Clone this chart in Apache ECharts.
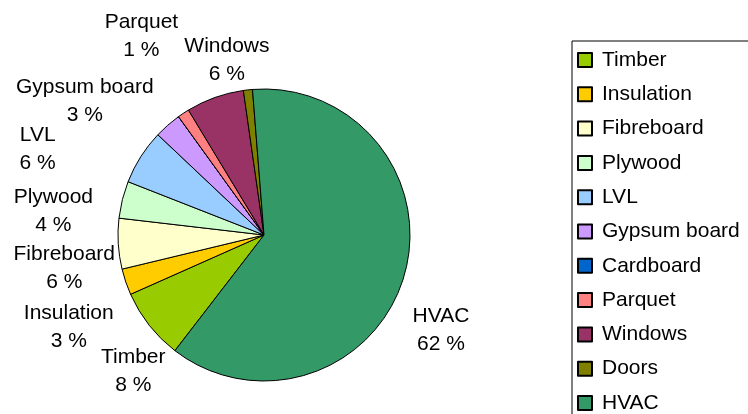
<!DOCTYPE html>
<html><head><meta charset="utf-8">
<script src="https://cdn.jsdelivr.net/npm/echarts@6/dist/echarts.min.js"></script>
<style>html,body{margin:0;padding:0;background:#fff}#c{width:748px;height:414px}</style>
</head><body><div id="c"></div>
<script>
const categories = ['Timber','Insulation','Fibreboard','Plywood','LVL','Gypsum board','Cardboard','Parquet','Windows','Doors','HVAC'];
const shares = [7.9, 2.9, 5.6, 4.1, 6.1, 3.0, 0, 1.3, 6.4, 1.0, 61.7];
const colors = ['#99CC00','#FFCC00','#FFFFCC','#CCFFCC','#99CCFF','#CC99FF','#0066CC','#FF8080','#993366','#808000','#339966'];
const unlabelled = ['Cardboard','Doors'];
// label nudges (px) from the outer midpoint of each slice, Excel-style placement
const labelNudge = {
  'Timber': [-16, 46], 'Insulation': [-57, 45], 'Fibreboard': [-54, 24], 'Plywood': [-69, 12],
  'LVL': [-103, -8], 'Gypsum board': [-83, -24], 'Parquet': [-42, -77], 'Windows': [12, -37], 'HVAC': [37, 54]
};

const FONT = '"Liberation Sans", Arial, sans-serif';
const chart = echarts.init(document.getElementById('c'), null, {renderer: 'canvas'});
chart.setOption({
  animation: false,
  color: colors,
  legend: {
    orient: 'vertical',
    left: 572, top: 41, height: 600,
    padding: [8.5, 30, 30, 5],
    borderColor: '#000', borderWidth: 1,
    itemWidth: 14, itemHeight: 14, itemGap: 13.3,
    icon: 'rect',
    textStyle: {fontSize: 21, lineHeight: 21, color: '#000', fontFamily: FONT, padding: [0,0,0,5]},
    data: categories
  },
  series: [{
    type: 'pie',
    center: [264, 235],
    radius: 146,
    startAngle: 232.4,
    clockwise: true,
    percentPrecision: 0,
    avoidLabelOverlap: false,
    itemStyle: {borderColor: '#000', borderWidth: 1},
    emphasis: {disabled: true},
    label: {
      position: 'outside',
      overflow: 'none',
      formatter: '{c|{b}}\n{c|{d} %}',
      color: '#000', fontSize: 21, fontFamily: FONT,
      rich: {c: {align: 'center', fontSize: 21, lineHeight: 28, fontFamily: FONT, color: '#000'}}
    },
    labelLine: {show: false, length: 0, length2: 0},
    labelLayout: function (params) {
      const data = chart.getModel().getSeriesByIndex(0).getData();
      const lay = data.getItemLayout(params.dataIndex);
      const name = data.getName(params.dataIndex);
      const mid = (lay.startAngle + lay.endAngle) / 2;
      const px = lay.cx + lay.r * Math.cos(mid);
      const py = lay.cy + lay.r * Math.sin(mid);
      const n = labelNudge[name] || [0, 0];
      return {x: px + n[0], y: py + n[1], align: 'center', verticalAlign: 'middle'};
    },
    data: categories.map((name, i) => ({
      name, value: shares[i],
      label: {show: unlabelled.indexOf(name) < 0}
    }))
  }]
});
</script></body></html>
